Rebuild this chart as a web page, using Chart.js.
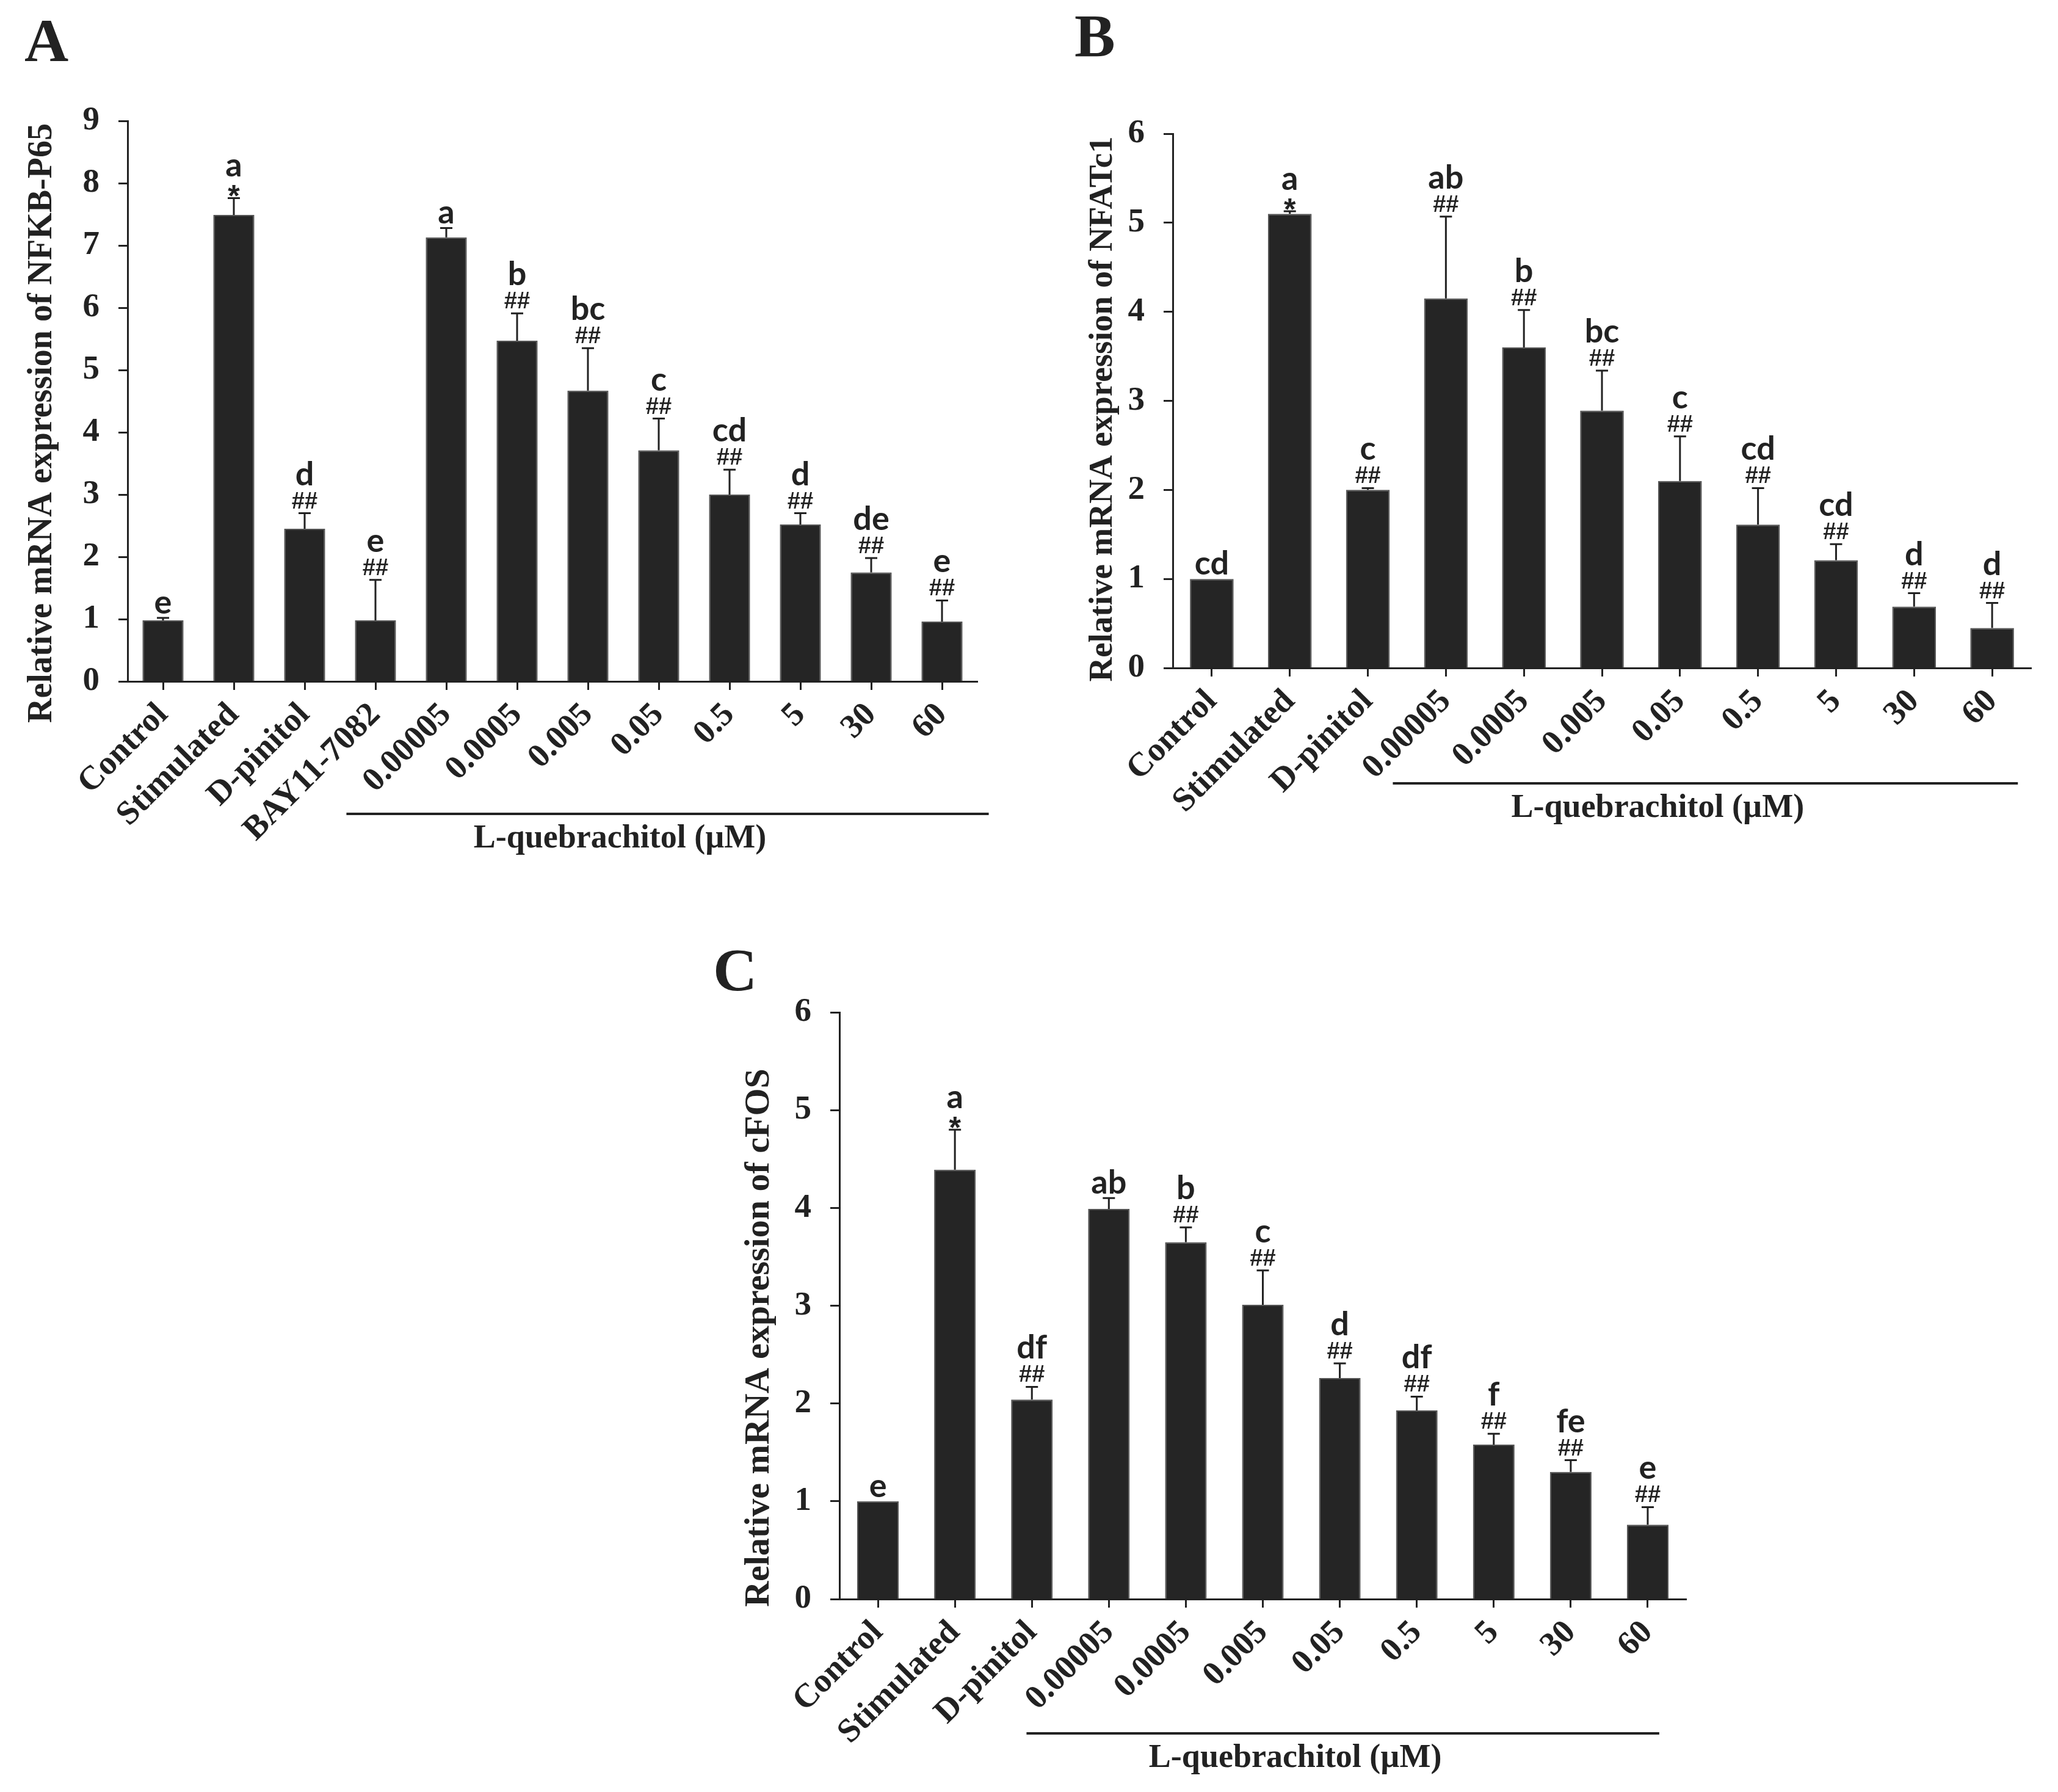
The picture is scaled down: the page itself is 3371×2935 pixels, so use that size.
<!DOCTYPE html>
<html>
<head>
<meta charset="utf-8">
<title>Relative mRNA expression</title>
<script src="https://cdn.jsdelivr.net/npm/chart.js@4.4.1/dist/chart.umd.min.js"></script>
<style>
  html, body { margin: 0; padding: 0; background: #fff; }
  body { width: 3371px; height: 2935px; position: relative; overflow: hidden; }
  .panel { position: absolute; }
</style>
</head>
<body>
<div class="panel" style="left:0px;top:0px;width:1680px;height:1460px"><canvas id="chartA"></canvas></div>
<div class="panel" style="left:1700px;top:0px;width:1671px;height:1460px"><canvas id="chartB"></canvas></div>
<div class="panel" style="left:1150px;top:1480px;width:1700px;height:1455px"><canvas id="chartC"></canvas></div>
<script>
// categories
const catsA = ['Control', 'Stimulated', 'D-pinitol', 'BAY11-7082', '0.00005', '0.0005', '0.005', '0.05', '0.5', '5', '30', '60'];
const catsBC = ['Control', 'Stimulated', 'D-pinitol', '0.00005', '0.0005', '0.005', '0.05', '0.5', '5', '30', '60'];

// A: NFKB-P65
const meanA = [0.98, 7.49, 2.45, 0.98, 7.13, 5.47, 4.67, 3.71, 3.00, 2.52, 1.75, 0.96];
const errA = [0.04, 0.27, 0.25, 0.65, 0.15, 0.44, 0.68, 0.51, 0.40, 0.18, 0.23, 0.34];
const letterA = ['e', 'a', 'd', 'e', 'a', 'b', 'bc', 'c', 'cd', 'd', 'de', 'e'];
const markA = ['', '*', '##', '##', '', '##', '##', '##', '##', '##', '##', '##'];

// B: NFATc1
const meanB = [1.00, 5.10, 2.00, 4.15, 3.60, 2.89, 2.10, 1.61, 1.21, 0.69, 0.45];
const errB = [0, 0.03, 0.02, 0.92, 0.42, 0.45, 0.50, 0.41, 0.18, 0.15, 0.28];
const letterB = ['cd', 'a', 'c', 'ab', 'b', 'bc', 'c', 'cd', 'cd', 'd', 'd'];
const markB = ['', '*', '##', '##', '##', '##', '##', '##', '##', '##', '##'];

// C: cFOS
const meanC = [1.00, 4.39, 2.04, 3.99, 3.65, 3.01, 2.26, 1.93, 1.58, 1.30, 0.76];
const errC = [0, 0.41, 0.13, 0.11, 0.15, 0.35, 0.15, 0.14, 0.11, 0.12, 0.18];
const letterC = ['e', 'a', 'df', 'ab', 'b', 'c', 'd', 'df', 'f', 'fe', 'e'];
const markC = ['', '*', '##', '', '##', '##', '##', '##', '##', '##', '##'];

const SERIF = '"Liberation Serif", "Times New Roman", serif';
const INK = '#222';

// error bars, significance marks, panel letter, y title, bracket
const decorPlugin = {
    id: 'decor',
    afterDatasetsDraw(chart, args, o) {
        const ctx = chart.ctx;
        const ys = chart.scales.y, xs = chart.scales.x;
        const area = chart.chartArea;
        const meta = chart.getDatasetMeta(0);
        ctx.save();
        ctx.textAlign = 'center';
        ctx.fillStyle = INK;
        meta.data.forEach((bar, i) => {
            const m = o.means[i], e = o.errs[i];
            const yCap = ys.getPixelForValue(m + e);
            if (e > 0) {
                ctx.strokeStyle = INK;
                ctx.lineWidth = 3;
                ctx.beginPath();
                ctx.moveTo(bar.x, ys.getPixelForValue(m));
                ctx.lineTo(bar.x, yCap);
                ctx.moveTo(bar.x - 10, yCap);
                ctx.lineTo(bar.x + 10, yCap);
                ctx.stroke();
            }
            let letterBase = yCap - 7;
            ctx.textBaseline = 'alphabetic';
            if (o.marks[i] === '##') {
                ctx.font = 'bold 38px "Liberation Sans", Arial, sans-serif';
                ctx.fillText('##', bar.x, yCap - 8);
                letterBase = yCap - 46;
            } else if (o.marks[i] === '*') {
                ctx.font = 'bold 50px "Liberation Sans", Arial, sans-serif';
                ctx.fillText('*', bar.x, yCap + 14);
                letterBase = yCap - 35;
            }
            ctx.font = 'bold 54px Lato, "Open Sans", sans-serif';
            ctx.fillText(o.letters[i], bar.x, letterBase);
        });

        // y axis title
        ctx.save();
        ctx.translate(o.titleX, o.titleY);
        ctx.rotate(-Math.PI / 2);
        ctx.textBaseline = 'middle';
        ctx.font = 'bold ' + o.titleSize + 'px ' + SERIF;
        ctx.fillText(o.title, 0, 0);
        ctx.restore();

        // bracket under the L-quebrachitol doses
        const bx1 = xs.getPixelForValue(o.bracketFrom);
        const bx2 = xs.getPixelForValue(o.bracketTo);
        const by = area.bottom + o.bracketDrop;
        ctx.strokeStyle = INK;
        ctx.lineWidth = 4;
        ctx.beginPath();
        ctx.moveTo(bx1, by);
        ctx.lineTo(bx2, by);
        ctx.stroke();
        ctx.font = 'bold 54px ' + SERIF;
        ctx.textBaseline = 'alphabetic';
        ctx.fillText('L-quebrachitol (\u00b5M)', (bx1 + bx2) / 2 - 78, by + 55);

        // panel letter
        ctx.textAlign = 'left';
        ctx.font = 'bold 100px ' + SERIF;
        ctx.fillText(o.panel, o.panelX, o.panelY);
        ctx.restore();
    }
};

function makeChart(id, cats, means, cfg) {
    const tickFont = { family: SERIF, size: 55, weight: 'bold' };
    return new Chart(document.getElementById(id), {
        type: 'bar',
        data: {
            labels: cats,
            datasets: [{
                data: means,
                backgroundColor: '#252525',
                borderColor: '#555',
                borderWidth: 2,
                barPercentage: cfg.barPct,
                categoryPercentage: 1
            }]
        },
        options: {
            responsive: true,
            maintainAspectRatio: false,
            animation: false,
            events: [],
            layout: { padding: { top: cfg.padTop, right: cfg.padRight, left: 0, bottom: 0 } },
            plugins: {
                legend: { display: false },
                tooltip: { enabled: false },
                decor: cfg.decor
            },
            scales: {
                x: {
                    grid: { display: true, drawOnChartArea: false, offset: false, tickLength: 14, tickWidth: 3, tickColor: INK },
                    border: { display: true, color: INK, width: 3 },
                    ticks: { color: INK, font: tickFont, maxRotation: 45, minRotation: 45, autoSkip: false, padding: 9 },
                    afterFit: s => { s.height = cfg.xH; }
                },
                y: {
                    min: 0,
                    max: cfg.yMax,
                    grid: { display: true, drawOnChartArea: false, tickLength: 15, tickWidth: 3, tickColor: INK },
                    border: { display: true, color: INK, width: 3 },
                    ticks: { stepSize: 1, color: INK, font: tickFont, padding: 31 },
                    afterFit: s => { s.width = cfg.yW; }
                }
            }
        },
        plugins: [decorPlugin]
    });
}

makeChart('chartA', catsA, meanA, {
    barPct: 0.58, padTop: 198, padRight: 79, xH: 344, yW: 209, yMax: 9,
    decor: {
        means: meanA, errs: errA, letters: letterA, marks: markA,
        title: 'Relative mRNA expression of NFKB-P65', titleSize: 56, titleX: 70, titleY: 693,
        bracketFrom: 2.59, bracketTo: 11.66, bracketDrop: 217,
        panel: 'A', panelX: 40, panelY: 100
    }
});

makeChart('chartB', catsBC, meanB, {
    barPct: 0.56, padTop: 219, padRight: 44, xH: 366, yW: 221, yMax: 6,
    decor: {
        means: meanB, errs: errB, letters: letterB, marks: markB,
        title: 'Relative mRNA expression of NFATc1', titleSize: 55, titleX: 107, titleY: 670,
        bracketFrom: 2.32, bracketTo: 10.33, bracketDrop: 189,
        panel: 'B', panelX: 60, panelY: 92
    }
});

makeChart('chartC', catsBC, meanC, {
    barPct: 0.54, padTop: 178, padRight: 88, xH: 316, yW: 225, yMax: 6,
    decor: {
        means: meanC, errs: errC, letters: letterC, marks: markC,
        title: 'Relative mRNA expression of cFOS', titleSize: 58, titleX: 94, titleY: 711,
        bracketFrom: 1.93, bracketTo: 10.15, bracketDrop: 220,
        panel: 'C', panelX: 18, panelY: 142
    }
});
</script>
</body>
</html>
